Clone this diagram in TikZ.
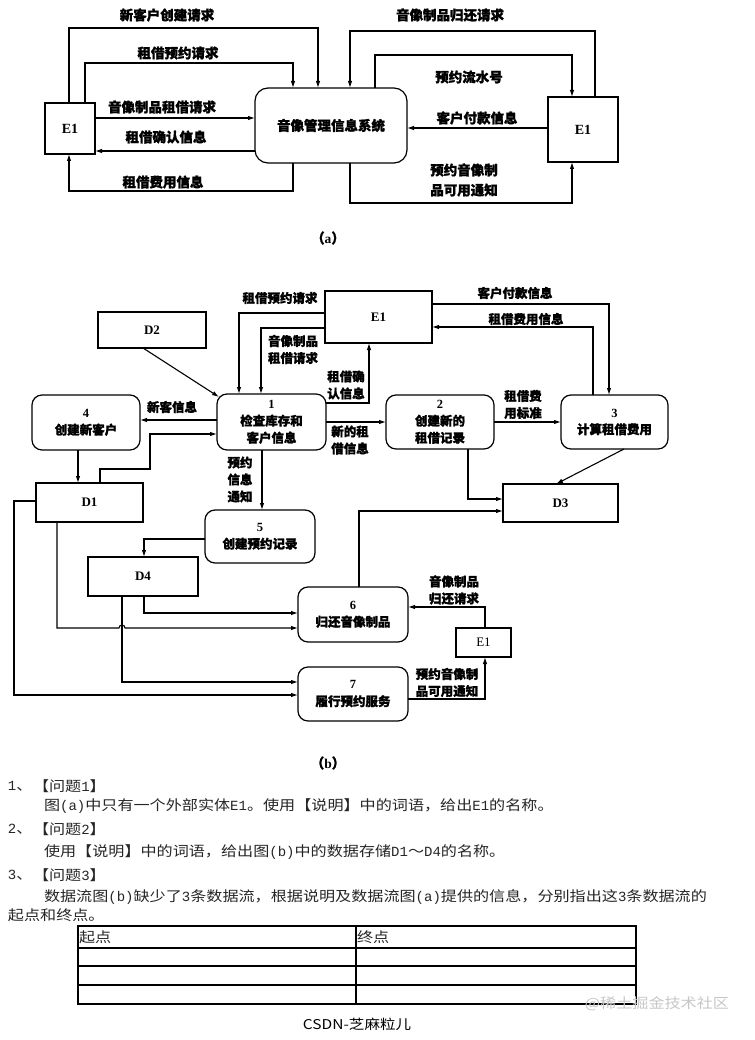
\documentclass[tikz,border=0pt]{standalone}
\usepackage{fontspec}
\setmainfont{Noto Sans CJK SC}
\newfontfamily\cjk{Noto Sans CJK SC}[FakeBold=1.3]
\newfontfamily\ser{Liberation Serif}
\newfontfamily\mono{Liberation Mono}
\newfontfamily\btm{Noto Sans CJK SC}[FakeStretch=1.15]
\usetikzlibrary{arrows.meta}
\begin{document}
\begin{tikzpicture}[x=1pt,y=-1pt,
  every node/.style={inner sep=0pt, outer sep=0pt},
  ent/.style={draw, line width=1.2pt, rectangle, font=\fontsize{14}{16}\selectfont\ser\bfseries},
  proc/.style={draw, line width=1.2pt, rounded corners=10pt, align=center, font=\fontsize{12.5}{17}\selectfont\cjk\bfseries},
  arr/.style={line width=1.1pt, -{Latex[length=7pt,width=4.5pt]}},
  la/.style={font=\fontsize{13.5}{20}\selectfont\cjk\bfseries, align=center},
  lb/.style={font=\fontsize{12.5}{17}\selectfont\cjk\bfseries, align=center},
  qt/.style={anchor=west, font=\fontsize{14}{16}\selectfont\btm, text=black!85},
]
\fill[white] (0,0) rectangle (754,1040);
\useasboundingbox (0,0) rectangle (754,1040);

% ---------------- (a) ----------------
\node[ent, minimum width=50pt, minimum height=51pt] (eL) at (70,128.5) {E1};
\node[draw, line width=1.2pt, rounded corners=13pt, minimum width=152pt, minimum height=75pt, font=\fontsize{13.5}{16}\selectfont\cjk\bfseries] (sys) at (331,125.5) {音像管理信息系统};
\node[ent, minimum width=70pt, minimum height=65pt] (eR) at (583,129.5) {E1};

\draw[arr] ([xshift=-1pt]eL.north) -- ++(0,-75) -| ([xshift=-13pt]sys.north);
\draw[arr] ([xshift=15pt]eL.north) -- ++(0,-40) -| ([xshift=-38pt]sys.north);
\draw[arr] ([yshift=10.5pt]eL.east) -- ([yshift=7.5pt]sys.west);
\draw[arr] ([yshift=-25.5pt]sys.west) -- ([yshift=-22.5pt]eL.east);
\draw[arr] ([xshift=-38pt]sys.south) -- ++(0,28) -| ([xshift=-1pt]eL.south);
\draw[arr] ([xshift=12pt]eR.north) -- ++(0,-66) -| ([xshift=19pt]sys.north);
\draw[arr] ([xshift=44pt]sys.north) -- ++(0,-33) -| ([xshift=-11pt]eR.north);
\draw[arr] ([yshift=1.5pt]eR.west) -- ([yshift=-2.5pt]sys.east);
\draw[arr] ([xshift=19pt]sys.south) -- ++(0,40) -| ([xshift=-11pt]eR.south);

\node[la] (la1) at (167,15) {新客户创建请求};
\node[la] (la2) at (178,53) {租借预约请求};
\node[la] (la3) at (162,107) {音像制品租借请求};
\node[la] (la4) at (166,137) {租借确认信息};
\node[la] (la5) at (163,182) {租借费用信息};
\node[la] (la6) at (450,15) {音像制品归还请求};
\node[la] (la7) at (469,77) {预约流水号};
\node[la] (la8) at (477,118) {客户付款信息};
\node[la] (la9) at (464,180) {预约音像制\\品可用通知};
\node[la] (capa) at (328,238) {（{\ser a}）};

% ---------------- (b) ----------------
\node[ent, minimum width=108pt, minimum height=36pt, font=\fontsize{13}{15}\selectfont\ser\bfseries] (D2) at (152,330) {D2};
\node[ent, minimum width=107pt, minimum height=52pt, font=\fontsize{13}{15}\selectfont\ser\bfseries] (E1b) at (378.5,317) {E1};
\node[proc, minimum width=109pt, minimum height=56pt] (p1) at (271.5,422) {{\ser 1}\\检查库存和\\客户信息};
\node[proc, minimum width=108pt, minimum height=55pt] (p4) at (86,422.5) {{\ser\bfseries 4}\\创建新客户};
\node[proc, minimum width=108pt, minimum height=54pt] (p2) at (440,422) {{\ser\bfseries 2}\\创建新的\\租借记录};
\node[proc, minimum width=107pt, minimum height=54pt] (p3) at (614.5,422) {{\ser\bfseries 3}\\计算租借费用};
\node[ent, minimum width=115pt, minimum height=38pt, font=\fontsize{13}{15}\selectfont\ser\bfseries] (D3) at (560.5,503) {D3};
\node[ent, minimum width=107pt, minimum height=39pt, font=\fontsize{13}{15}\selectfont\ser\bfseries] (D1) at (89.5,502.5) {D1};
\node[proc, minimum width=110pt, minimum height=53pt] (p5) at (260,536.5) {{\ser 5}\\创建预约记录};
\node[ent, minimum width=110pt, minimum height=39pt, font=\fontsize{13}{15}\selectfont\ser\bfseries] (D4) at (143,576.5) {D4};
\node[proc, minimum width=110pt, minimum height=55pt] (p6) at (353,614.5) {{\ser 6}\\归还音像制品};
\node[proc, minimum width=110pt, minimum height=54pt] (p7) at (353,694) {{\ser 7}\\履行预约服务};
\node[ent, minimum width=55pt, minimum height=29pt, font=\fontsize{13}{15}\selectfont\ser] (E1s) at (483.5,642.5) {E1};

\coordinate (c4) at ([xshift=-8pt]p4.south);
\coordinate (c15) at ([xshift=-9.5pt]p1.south);
\coordinate (h1) at ([xshift=-32.5pt]D1.south);
\coordinate (hy) at ([yshift=-13.5pt]p6.west);
\coordinate (c47) at ([xshift=-21pt]D4.south);
\coordinate (hop) at (c47 |- hy);

\draw[arr] ([yshift=4pt]E1b.west) -| ([xshift=-32.5pt]p1.north);
\draw[arr] ([yshift=-11pt]E1b.west) -| ([xshift=-10.5pt]p1.north);
\draw[arr] ([yshift=19pt]p1.east) -| ([xshift=-9.5pt]E1b.south);
\draw[arr] (p1.east) -- (p2.west);
\draw[arr] ([yshift=2pt]p1.west) -- ([yshift=2.5pt]p4.east);
\draw[arr] ([xshift=10.5pt]D1.north) -- ++(0,-14) -- ++(50,0) |- ([yshift=-12pt]p1.west);
\draw[arr] ([xshift=-9pt]D2.south) -- ([shift={(2pt,-3pt)}]p1.north west);
\draw[arr] (c4) -- (c4 |- D1.north);
\draw[arr] (c15) -- (c15 |- p5.north);
\draw[arr] ([yshift=13pt]E1b.east) -| ([xshift=-5.5pt]p3.north);
\draw[arr] ([xshift=-21.5pt]p3.north) |- ([yshift=-10pt]E1b.east);
\draw[arr] (p2.east) -- (p3.west);
\draw[arr] ([xshift=9.5pt]p3.south) -- ([xshift=-4.5pt]D3.north);
\draw[arr] ([xshift=28pt]p2.south) |- ([yshift=4pt]D3.west);
\draw[arr] ([xshift=6pt]p6.north) |- ([yshift=-8pt]D3.west);
\draw[arr] ([yshift=1.5pt]D1.west) -- ++(-22,0) |- ([yshift=-1pt]p7.west);
\draw[arr] (h1) -- (h1 |- hy) -- ([xshift=-3pt]hop) arc[start angle=180, end angle=0, radius=3pt] -- (hy);
\draw[arr] ([xshift=1pt]D4.south) |- ([yshift=1.5pt]p6.west);
\draw[arr] (c47) |- ([yshift=12pt]p7.west);
\draw[arr] ([yshift=-2.5pt]p5.west) -| ([xshift=1pt]D4.north);
\draw[arr] ([xshift=1.5pt]E1s.north) |- ([yshift=7.5pt]p6.east);
\draw[arr] ([yshift=-5pt]p7.east) -| ([xshift=1.5pt]E1s.south);

\node[lb] (lb1) at (280,298) {租借预约请求};
\node[lb] (lb2) at (293,349.5) {音像制品\\租借请求};
\node[lb] (lb3) at (346,385) {租借确\\认信息};
\node[lb] (lb4) at (350,440) {新的租\\借信息};
\node[lb] (lb5) at (172,407) {新客信息};
\node[lb] (lb6) at (240,479.5) {预约\\信息\\通知};
\node[lb] (lb7) at (515,293) {客户付款信息};
\node[lb] (lb8) at (526,319) {租借费用信息};
\node[lb] (lb9) at (523,404.5) {租借费\\用标准};
\node[lb] (lb10) at (454,590) {音像制品\\归还请求};
\node[lb] (lb11) at (447,682.5) {预约音像制\\品可用通知};
\node[la] (capb) at (328,763) {（{\ser b}）};

% ---------------- questions ----------------
\node[qt] (q1a) at (8,786) {{\mono 1}、};
\node[qt] (q1b) at (33,786) {【问题{\mono 1}】};
\node[qt] (q1c) at (44,806) {图{\mono (a)}中只有一个外部实体{\mono E1}。使用【说明】中的词语，给出{\mono E1}的名称。};
\node[qt] (q2a) at (8,829) {{\mono 2}、};
\node[qt] (q2b) at (33,829) {【问题{\mono 2}】};
\node[qt] (q2c) at (44,852) {使用【说明】中的词语，给出图{\mono (b)}中的数据存储{\mono D1}～{\mono D4}的名称。};
\node[qt] (q3a) at (8,875) {{\mono 3}、};
\node[qt] (q3b) at (33,875) {【问题{\mono 3}】};
\node[qt] (q3c) at (44,897) {数据流图{\mono (b)}缺少了{\mono 3}条数据流，根据说明及数据流图{\mono (a)}提供的信息，分别指出这{\mono 3}条数据流的};
\node[qt] (q3d) at (8,915) {起点和终点。};

\draw[line width=1.2pt] (78,926) rectangle (636,1004);
\draw[line width=1.2pt] (78,948) -- (636,948);
\draw[line width=1.2pt] (78,966) -- (636,966);
\draw[line width=1.2pt] (78,985) -- (636,985);
\draw[line width=1.2pt] (356,926) -- (356,1004);
\node[qt] (th1) at (79,937) {起点};
\node[qt] (th2) at (357,937) {终点};

\node[font=\fontsize{14}{16}\selectfont\btm, text=black!22] (wm) at (657,1004) {@稀土掘金技术社区};
\node[font=\fontsize{13.5}{16}\selectfont\btm] (csdn) at (357,1024) {CSDN-芝麻粒儿};
\end{tikzpicture}
\end{document}
